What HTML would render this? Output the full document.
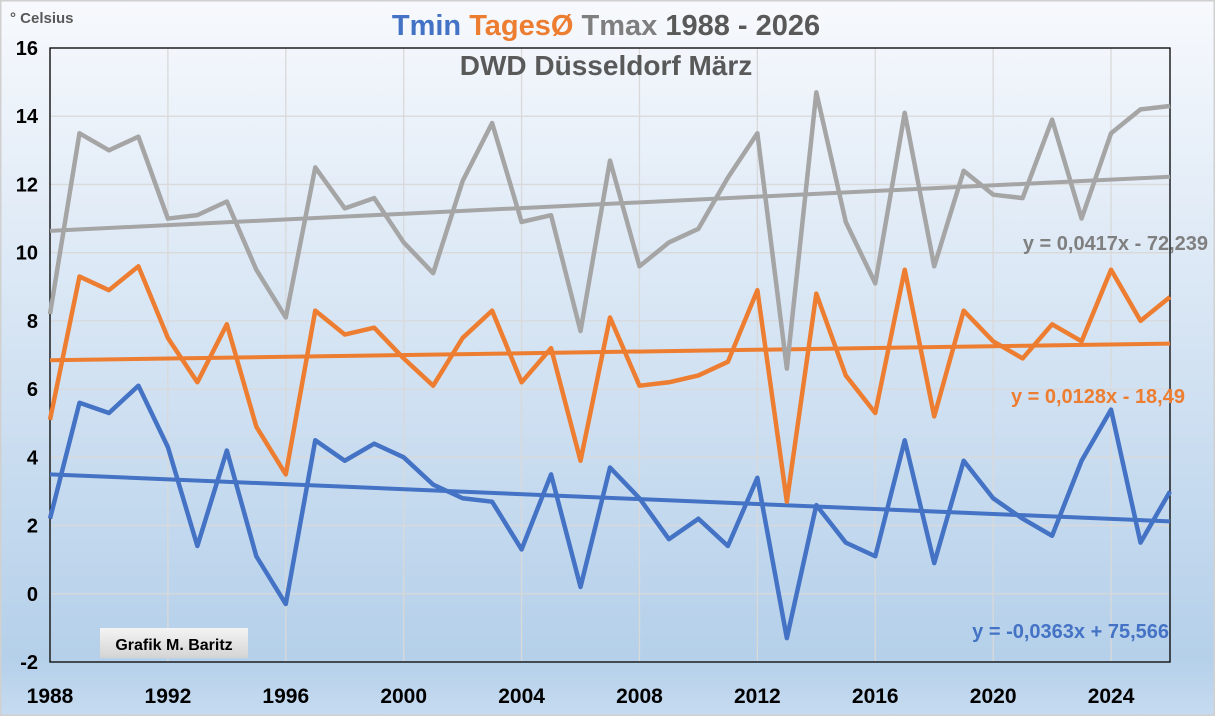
<!DOCTYPE html>
<html><head><meta charset="utf-8"><style>
html,body{margin:0;padding:0;}
body{width:1215px;height:716px;overflow:hidden;font-family:"Liberation Sans",sans-serif;}
</style></head><body>
<svg width="1215" height="716" xmlns="http://www.w3.org/2000/svg">
<defs>
<linearGradient id="bg" x1="0" y1="0" x2="0" y2="1">
<stop offset="0" stop-color="#f7f9fd"/><stop offset="0.92" stop-color="#b5d0ea"/><stop offset="1" stop-color="#c6dbf0"/>
</linearGradient>
<linearGradient id="box" x1="0" y1="0" x2="0" y2="1">
<stop offset="0" stop-color="#f4f4f4"/><stop offset="1" stop-color="#d4d4d4"/>
</linearGradient>
</defs>
<rect x="0" y="0" width="1215" height="716" fill="url(#bg)" stroke="#d0d0d0" stroke-width="3"/>
<g id="grid"></g>
<g id="axes"></g>
<g id="series"></g>
<text x="10" y="23" font-size="15" font-weight="bold" fill="#595959">° Celsius</text>
<text x="606" y="35" text-anchor="middle" font-size="29" font-weight="bold"><tspan fill="#4472c4">Tmin</tspan> <tspan fill="#ed7d31">TagesØ</tspan> <tspan fill="#7f7f7f">Tmax</tspan> <tspan fill="#595959">1988 - 2026</tspan></text>
<text x="606" y="75" text-anchor="middle" font-size="28" font-weight="bold" fill="#595959">DWD Düsseldorf März</text>
<rect x="100" y="628" width="148" height="30" fill="url(#box)"/>
<text x="174" y="650" text-anchor="middle" font-size="16" font-weight="bold" fill="#000">Grafik M. Baritz</text>
<text x="1208" y="250" text-anchor="end" font-size="20" font-weight="bold" fill="#7f7f7f">y = 0,0417x - 72,239</text>
<text x="1185" y="403" text-anchor="end" font-size="20" font-weight="bold" fill="#ed7d31">y = 0,0128x - 18,49</text>
<text x="1169" y="638" text-anchor="end" font-size="20" font-weight="bold" fill="#4472c4">y = -0,0363x + 75,566</text>
</svg>
<script>
const years=[];for(let y=1988;y<=2026;y++)years.push(y);
const tmax=[8.2,13.5,13.0,13.4,11.0,11.1,11.5,9.5,8.1,12.5,11.3,11.6,10.3,9.4,12.1,13.8,10.9,11.1,7.7,12.7,9.6,10.3,10.7,12.2,13.5,6.6,14.7,10.9,9.1,14.1,9.6,12.4,11.7,11.6,13.9,11.0,13.5,14.2,14.3];
const tmean=[5.1,9.3,8.9,9.6,7.5,6.2,7.9,4.9,3.5,8.3,7.6,7.8,6.9,6.1,7.5,8.3,6.2,7.2,3.9,8.1,6.1,6.2,6.4,6.8,8.9,2.7,8.8,6.4,5.3,9.5,5.2,8.3,7.4,6.9,7.9,7.4,9.5,8.0,8.7];
const tmin=[2.2,5.6,5.3,6.1,4.3,1.4,4.2,1.1,-0.3,4.5,3.9,4.4,4.0,3.2,2.8,2.7,1.3,3.5,0.2,3.7,2.8,1.6,2.2,1.4,3.4,-1.3,2.6,1.5,1.1,4.5,0.9,3.9,2.8,2.2,1.7,3.9,5.4,1.5,3.0];
const yTicks=[-2,0,2,4,6,8,10,12,14,16];
const xTicks=[1988,1992,1996,2000,2004,2008,2012,2016,2020,2024];
const trendMax=[0.0417,-72.259], trendMean=[0.0128,-18.60], trendMin=[-0.0363,75.666];
const X0=50,X1=1170,Y0=662,Y1=48;
const xs=y=>X0+(y-1988)/(2026-1988)*(X1-X0);
const ys=v=>Y0-(v+2)/18*(Y0-Y1);
const NS="http://www.w3.org/2000/svg";
function mk(tag,attrs,parent){const e=document.createElementNS(NS,tag);for(const k in attrs)e.setAttribute(k,attrs[k]);document.getElementById(parent).appendChild(e);return e;}
yTicks.forEach(t=>{
 const l=mk('line',{x1:X0,x2:X1,y1:ys(t),y2:ys(t),stroke:'#d9d9d9','stroke-width':1.3},'grid');
 
 
 const tx=mk('text',{x:X0-12,y:ys(t)+7,'text-anchor':'end','font-size':20,'font-weight':'bold',fill:'#000'},'axes');
 tx.textContent=t;
 
 
});
xTicks.forEach(t=>{
 const l=mk('line',{x1:xs(t),x2:xs(t),y1:Y1,y2:Y0,stroke:'#d9d9d9','stroke-width':1.3},'grid');
 
 
 const tx=mk('text',{x:xs(t),y:703,'text-anchor':'middle','font-size':21,'font-weight':'bold',fill:'#000'},'axes');
 tx.textContent=t;
 
 
});
const frame=mk('rect',{x:X0,y:Y1,width:X1-X0,height:Y0-Y1,fill:'none',stroke:'#000','stroke-width':1.3},'axes');


function line(vals,color,name){
 const p=mk('polyline',{points:vals.map((v,i)=>xs(years[i])+','+ys(v)).join(' '),fill:'none',stroke:color,'stroke-width':4.5,'stroke-linejoin':'round'},'series');
 
 
}
function trend(c,color,name){
 const a=years[0],b=years[years.length-1];
 const p=mk('line',{x1:xs(a),y1:ys(c[0]*a+c[1]),x2:xs(b),y2:ys(c[0]*b+c[1]),stroke:color,'stroke-width':4},'series');
 
 
}
trend(trendMax,'#a5a5a5','tmax-trendline');
trend(trendMean,'#ed7d31','mean-trendline');
trend(trendMin,'#4472c4','tmin-trendline');
line(tmax,'#a5a5a5','tmax-line');
line(tmean,'#ed7d31','mean-line');
line(tmin,'#4472c4','tmin-line');
</script>
</body></html>
